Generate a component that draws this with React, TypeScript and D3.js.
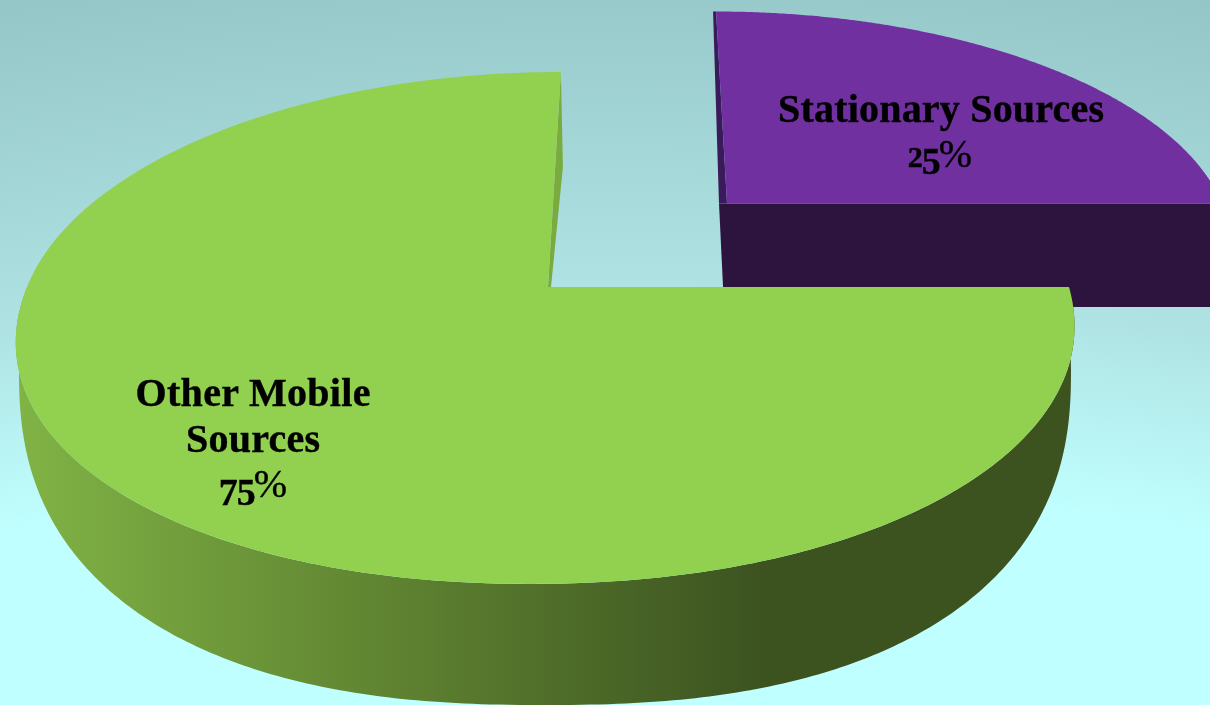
import React from "react";
import * as d3 from "d3";

const categories = ["Stationary Sources", "Other Mobile Sources"];
const shares = [25, 75];
const colors = ["#7030a0", "#92d050"];
const stationaryName = "Stationary Sources";
const mobileNameLines = ["Other Mobile", "Sources"];

type Frame = { cx: number; cy: number; A: number; B: number; p: number; s: number; e: number };

const frames = {
  stationaryTop: { cx: 727, cy: 203.5, A: 222.7, B: 495, p: 0.16, s: 0.057, e: 1 },
  stationaryBase: { cx: 724, cy: 307, A: 222.7, B: 495, p: 0.16, s: 0.057, e: 1 },
  mobileTop: { cx: 548, cy: 287, A: 249.4, B: 521, p: 0.16, s: -0.06, e: 0.96 },
  mobileBase: { cx: 545, cy: 370, A: 335, B: 526, p: 0, s: 0, e: 0.83 },
};

function project(f: Frame, a: number): [number, number] {
  let x = Math.sin(a);
  let y = -Math.cos(a);
  if (y > 0) {
    x = Math.sign(x) * Math.pow(Math.abs(x), f.e);
    y = Math.pow(y, f.e);
  }
  const w = 1 - f.p * y;
  const dy = (f.A * y) / w;
  return [f.cx + (f.B * x) / w + f.s * dy, f.cy + dy];
}

const line = d3.line<[number, number]>().x((d) => d[0]).y((d) => d[1]);

function arcPts(f: Frame, a0: number, a1: number, n = 240): [number, number][] {
  return d3.range(n + 1).map((i) => project(f, a0 + ((a1 - a0) * i) / n));
}

const pieData = d3.pie<number>().sort(null)(shares);
const stationary = pieData[0];
const mobile = pieData[1];

function sector(f: Frame, a0: number, a1: number) {
  return line([[f.cx, f.cy], ...arcPts(f, a0, a1)]) + "Z";
}

function OldStyle({ x, y, digits }: { x: number; y: number; digits: string }) {
  // digits set in mixed sizes to imitate old-style numerals
  const lead = digits[0];
  const drop = lead === "7";
  return (
    <text x={x} y={y} textAnchor="middle" strokeWidth={0.4} stroke="#000">
      <tspan fontSize={drop ? 38 : 30} dy={drop ? 8 : 0}>{lead}</tspan>
      <tspan fontSize={38} dy={drop ? 0 : 7} dx={-1}>{digits[1]}</tspan>
      <tspan fontSize={40} fontWeight={400} dy={drop ? -8 : -7} dx={-2}>%</tspan>
    </text>
  );
}

export default function App() {
  const F = frames;
  const stApex: [number, number] = [F.stationaryTop.cx, F.stationaryTop.cy];
  const stBaseApex: [number, number] = [F.stationaryBase.cx, F.stationaryBase.cy];
  const stEnd = project(F.stationaryTop, stationary.endAngle);
  const stBaseEnd = project(F.stationaryBase, stationary.endAngle);
  const stCorner = project(F.stationaryTop, stationary.startAngle);

  const mbApex: [number, number] = [F.mobileTop.cx, F.mobileTop.cy];
  const mbCorner = project(F.mobileTop, mobile.endAngle);

  const wallOuter = arcPts(F.mobileBase, mobile.startAngle, Math.PI * 1.5);
  const wallInner = arcPts(F.mobileTop, mobile.startAngle, Math.PI * 1.5).reverse();

  return (
    <svg width={1210} height={705} style={{ position: "fixed", left: 0, top: 0, display: "block" }}>
      <defs>
        <radialGradient id="bg" gradientUnits="userSpaceOnUse" cx={600} cy={4105} r={4150}>
          <stop offset="0.873" stopColor="#c0ffff" />
          <stop offset="0.924" stopColor="#aee1e1" />
          <stop offset="1" stopColor="#94c6c8" />
        </radialGradient>
        <linearGradient id="wall" gradientUnits="userSpaceOnUse" x1={20} y1={0} x2={760} y2={0}>
          <stop offset="0" stopColor="#80b345" />
          <stop offset="0.5" stopColor="#5f8331" />
          <stop offset="1" stopColor="#3c5320" />
        </linearGradient>
      </defs>
      <rect width={1210} height={705} fill="url(#bg)" />

      <path
        d={line([stApex, stEnd, stBaseEnd, stBaseApex, [stApex[0] - 8, stApex[1]]])! + "Z"}
        fill="#2d143f"
      />
      <path
        d={line([[stCorner[0] - 3, stCorner[1]], stCorner, stApex, [stApex[0] - 8, stApex[1]]])! + "Z"}
        fill="#3b1a5c"
      />
      <path d={sector(F.stationaryTop, stationary.startAngle, stationary.endAngle)} fill={colors[0]} />

      <path d={line([...wallOuter, ...wallInner])! + "Z"} fill="url(#wall)" />
      <path
        d={line([mbCorner, [mbCorner[0] + 2, mbCorner[1] + 95], [mbApex[0] + 3, mbApex[1]], mbApex])! + "Z"}
        fill="#7aab3e"
      />
      <path d={sector(F.mobileTop, mobile.startAngle, mobile.endAngle)} fill={colors[1]} />

      <g fontFamily="'Liberation Serif', serif" fontWeight="700" fontSize={40} textAnchor="middle" fill="#000">
        <text x={941} y={122} textLength={326} lengthAdjust="spacing" stroke="#000" strokeWidth={0.4}>{stationaryName}</text>
        <OldStyle x={940} y={167} digits={`${shares[0]}%`} />
        <text x={253} y={406} textLength={235} lengthAdjust="spacing" stroke="#000" strokeWidth={0.4}>{mobileNameLines[0]}</text>
        <text x={253} y={452} textLength={134} lengthAdjust="spacing" stroke="#000" strokeWidth={0.4}>{mobileNameLines[1]}</text>
        <OldStyle x={253} y={497} digits={`${shares[1]}%`} />
      </g>
      <title>{categories.join(", ")}</title>
    </svg>
  );
}
